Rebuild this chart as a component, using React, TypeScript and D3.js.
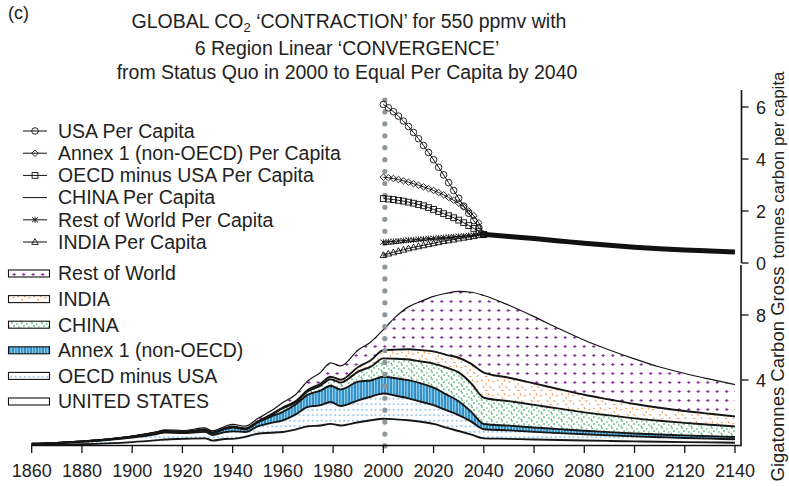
import React from 'react';
import * as d3 from 'd3';

// ---------- Data ----------
const years = [1860,1870,1880,1890,1900,1910,1913,1920,1929,1932,1937,1940,1945,1950,1955,1960,1965,1970,1975,1979,1983,1990,1995,2000,
  2005,2010,2015,2020,2025,2030,2035,2040,
  2050,2060,2070,2080,2090,2100,2110,2120,2130,2140];

const usaGross = [0.01,0.02,0.05,0.10,0.18,0.30,0.34,0.38,0.41,0.27,0.37,0.38,0.50,0.69,0.75,0.80,0.95,1.15,1.20,1.30,1.20,1.40,1.52,1.62,
  1.58,1.52,1.43,1.30,1.07,0.86,0.64,0.41,
  0.38,0.34,0.31,0.28,0.25,0.22,0.20,0.18,0.16,0.14];
const oecdGross = [0.06,0.10,0.15,0.21,0.28,0.38,0.42,0.35,0.40,0.35,0.42,0.46,0.30,0.45,0.60,0.72,0.92,1.20,1.25,1.35,1.20,1.35,1.45,1.55,
  1.45,1.35,1.23,1.15,1.07,0.98,0.80,0.56,
  0.52,0.47,0.42,0.38,0.34,0.31,0.28,0.25,0.23,0.21];
const annexGross = [0.005,0.01,0.02,0.03,0.05,0.08,0.09,0.05,0.10,0.12,0.20,0.24,0.17,0.25,0.38,0.52,0.62,0.75,0.90,1.00,1.02,1.15,1.00,1.03,
  1.08,1.12,1.13,1.08,0.98,0.85,0.60,0.32,
  0.29,0.27,0.25,0.22,0.20,0.18,0.17,0.16,0.15,0.14];
const chinaGross = [0,0,0,0,0.005,0.01,0.01,0.01,0.02,0.02,0.02,0.03,0.02,0.03,0.08,0.22,0.13,0.21,0.30,0.40,0.42,0.62,0.85,1.13,
  1.20,1.27,1.35,1.48,1.65,1.78,1.75,1.62,
  1.51,1.39,1.26,1.13,1.03,0.93,0.84,0.77,0.71,0.65];
const indiaGross = [0,0,0.005,0.005,0.01,0.01,0.01,0.02,0.02,0.02,0.02,0.03,0.03,0.03,0.04,0.05,0.07,0.09,0.12,0.15,0.18,0.28,0.40,0.50,
  0.56,0.63,0.70,0.75,0.78,0.90,1.20,1.54,
  1.44,1.32,1.19,1.08,0.98,0.88,0.80,0.73,0.67,0.62];
const rowGross = [0.01,0.01,0.02,0.02,0.03,0.05,0.06,0.08,0.10,0.09,0.11,0.13,0.14,0.18,0.22,0.30,0.40,0.55,0.70,0.85,0.85,1.05,1.12,1.27,
  2.03,2.61,3.00,3.39,3.78,4.08,4.41,4.75,
  4.46,4.11,3.72,3.36,3.05,2.78,2.51,2.31,2.13,1.96];

const pcYears = [2000,2002,2004,2006,2008,2010,2012,2014,2016,2018,2020,2022,2024,2026,2028,2030,2032,2034,2036,2038,2040];
const usaPC = [6.10,5.97,5.82,5.65,5.46,5.25,5.02,4.78,4.52,4.25,3.97,3.68,3.39,3.09,2.79,2.49,2.19,1.91,1.63,1.36,1.10];
const annexPC = [3.30,3.28,3.25,3.21,3.16,3.11,3.05,2.99,2.93,2.86,2.79,2.71,2.62,2.52,2.41,2.30,2.16,2.00,1.82,1.55,1.10];
const oecdPC = [2.48,2.46,2.44,2.41,2.38,2.34,2.30,2.25,2.20,2.13,2.06,1.98,1.90,1.82,1.74,1.65,1.55,1.44,1.33,1.22,1.10];
const chinaPC = [0.70,0.72,0.74,0.76,0.79,0.81,0.83,0.85,0.87,0.89,0.91,0.93,0.95,0.97,0.99,1.01,1.03,1.05,1.07,1.09,1.10];
const rowPC = [0.80,0.82,0.83,0.85,0.86,0.88,0.89,0.91,0.92,0.94,0.95,0.97,0.98,1.00,1.01,1.03,1.04,1.06,1.07,1.09,1.10];
const indiaPC = [0.30,0.36,0.41,0.46,0.51,0.56,0.60,0.64,0.68,0.72,0.76,0.80,0.84,0.87,0.90,0.94,0.97,1.00,1.03,1.07,1.10];

const convYears = [2040,2050,2060,2070,2080,2090,2100,2110,2120,2130,2140];
const convPC = [1.10,1.02,0.94,0.85,0.76,0.68,0.61,0.55,0.50,0.46,0.42];

const xTicks = [1860,1880,1900,1920,1940,1960,1980,2000,2020,2040,2060,2080,2100,2120,2140];
const pcTicks = [0,2,4,6];
const gTicks = [4,8];

const titleLines = ['6 Region Linear ‘CONVERGENCE’', 'from Status Quo in 2000 to Equal Per Capita by 2040'];

const pcLegend = [
  { label: 'USA Per Capita', marker: 'circle' },
  { label: 'Annex 1 (non-OECD) Per Capita', marker: 'diamond' },
  { label: 'OECD minus USA Per Capita', marker: 'square' },
  { label: 'CHINA Per Capita', marker: 'none' },
  { label: 'Rest of World Per Capita', marker: 'asterisk' },
  { label: 'INDIA Per Capita', marker: 'triangle' },
];
const areaLegend = [
  { label: 'Rest of World', key: 'row' },
  { label: 'INDIA', key: 'india' },
  { label: 'CHINA', key: 'china' },
  { label: 'Annex 1 (non-OECD)', key: 'annex' },
  { label: 'OECD minus USA', key: 'oecd' },
  { label: 'UNITED STATES', key: 'usa' },
];

const keys = ['usa', 'oecd', 'annex', 'china', 'india', 'row'];
const fills: Record<string, string> = {
  usa: '#ffffff', oecd: 'url(#pOecd)', annex: 'url(#pAnnex)', china: 'url(#pChina)', india: 'url(#pIndia)', row: 'url(#pRow)',
};

const FONT = 'Liberation Sans, Arial, Helvetica, sans-serif';

function Marker({ type, cx, cy }: { type: string; cx: number; cy: number }) {
  const s = { fill: 'none', stroke: '#111', strokeWidth: 0.9 } as const;
  if (type === 'circle') return <circle cx={cx} cy={cy} r={3.3} {...s} />;
  if (type === 'diamond') return <path d={`M${cx},${cy - 3.2}L${cx + 3.4},${cy}L${cx},${cy + 3.2}L${cx - 3.4},${cy}Z`} {...s} />;
  if (type === 'square') return <rect x={cx - 2.9} y={cy - 2.9} width={5.8} height={5.8} {...s} />;
  if (type === 'triangle') return <path d={`M${cx},${cy - 3.4}L${cx + 3.3},${cy + 2.4}L${cx - 3.3},${cy + 2.4}Z`} {...s} />;
  if (type === 'asterisk')
    return <path d={`M${cx - 3},${cy - 2.5}L${cx + 3},${cy + 2.5}M${cx - 3},${cy + 2.5}L${cx + 3},${cy - 2.5}M${cx},${cy - 3}V${cy + 3}`} {...s} />;
  return null;
}

export default function App() {
  const x = d3.scaleLinear().domain([1860, 2140]).range([31.7, 735]);
  const yPC = d3.scaleLinear().domain([0, 6]).range([263, 107]);
  const yG = d3.scaleLinear().domain([0, 8]).range([445, 315]);

  const table = years.map((yr, i) => ({
    year: yr, usa: usaGross[i], oecd: oecdGross[i], annex: annexGross[i],
    china: chinaGross[i], india: indiaGross[i], row: rowGross[i],
  }));
  const series = d3.stack<any>().keys(keys)(table);
  const area = d3.area<any>().x((d) => x(d.data.year)).y0((d) => yG(d[0])).y1((d) => yG(d[1])).curve(d3.curveMonotoneX);
  const topLine = d3.line<any>().x((d) => x(d.data.year)).y((d) => yG(d[1])).curve(d3.curveMonotoneX);

  const pcLine = d3.line<number>().x((_, i) => x(pcYears[i])).y((v) => yPC(v));
  const convLine = d3.line<number>().x((_, i) => x(convYears[i])).y((v) => yPC(v)).curve(d3.curveMonotoneX);

  const pcSeries = [
    { vals: usaPC, marker: 'circle' },
    { vals: annexPC, marker: 'diamond' },
    { vals: oecdPC, marker: 'square' },
    { vals: chinaPC, marker: 'none' },
    { vals: rowPC, marker: 'asterisk' },
    { vals: indiaPC, marker: 'triangle' },
  ];

  const dotX = x(2000) + 1.5;
  const dots: number[] = [];
  for (let yy = 100; yy <= 447; yy += 11.93) dots.push(yy);

  const axisX = 741.5;

  return (
    <svg width={789} height={486} style={{ position: 'absolute', left: 0, top: 0, background: '#fff' }} fontFamily={FONT}>
      <defs>
        <pattern id="pRow" width="9.5" height="9" patternUnits="userSpaceOnUse">
          <rect width="9.5" height="9" fill="#fff" />
          <path d="M3.1,4.5h3.2M4.7,2.9v3.2" stroke="#7a2d8a" strokeWidth="1.15" />
        </pattern>
        <pattern id="pIndia" width="16" height="14" patternUnits="userSpaceOnUse">
          <rect width="16" height="14" fill="#fff" />
          <path d="M1,2l2,1M8,1l1,2.5M12,4l2.5,-0.5M3,8l1.5,2M9,8.5l2.5,1M14,11l-1,2M5,12.5l2.5,0M6,5l0.5,2" stroke="#f4a35c" strokeWidth="1.1" />
        </pattern>
        <pattern id="pChina" width="10" height="7" patternUnits="userSpaceOnUse">
          <rect width="10" height="7" fill="#fff" />
          <path d="M1,1h2M6,2h1.6M3,4h2M8,5h1.6M0.5,6.2h1.5" stroke="#23a056" strokeWidth="1.1" />
        </pattern>
        <pattern id="pAnnex" width="6" height="10" patternUnits="userSpaceOnUse">
          <rect width="6" height="10" fill="#55b0de" />
          <rect x="0.5" width="1.1" height="10" fill="#1a6fa8" />
          <rect x="3.4" width="0.8" height="10" fill="#2583bd" />
          <rect x="2.2" width="0.6" height="10" fill="#c4e6f6" />
          <rect x="5.1" width="0.5" height="10" fill="#a9daf2" />
        </pattern>
        <pattern id="pOecd" width="4.5" height="5.5" patternUnits="userSpaceOnUse">
          <rect width="4.5" height="5.5" fill="#fff" />
          <circle cx="2.2" cy="2.7" r="0.95" fill="#7fb8e2" />
        </pattern>
      </defs>

      {/* Title */}
      <text x={8} y={19} fontSize={18} fill="#222">(c)</text>
      <text x={349} y={28} fontSize={19.5} textAnchor="middle" fill="#222">
        GLOBAL CO<tspan fontSize={13} dy={4}>2</tspan><tspan dy={-4}> ‘CONTRACTION’ for 550 ppmv with</tspan>
      </text>
      {titleLines.map((t, i) => (
        <text key={t} x={347} y={55 + i * 24} fontSize={19.5} textAnchor="middle" fill="#222">{t}</text>
      ))}

      {/* Stacked gross areas */}
      {series.map((s) => (
        <path key={s.key} d={area(s) || ''} fill={fills[s.key]} stroke="none" />
      ))}
      {series.map((s) => (
        <path key={'l' + s.key} d={topLine(s) || ''} fill="none" stroke="#161616" strokeWidth={s.key === 'row' ? 1.2 : 1.9} />
      ))}

      {/* Grey dotted line at 2000 */}
      {dots.map((yy, i) => (
        <circle key={i} cx={dotX} cy={yy} r={2.6} fill="#8d979c" />
      ))}

      {/* Per capita */}
      {pcSeries.map((s, si) => (
        <g key={si}>
          <path d={pcLine(s.vals) || ''} fill="none" stroke="#111" strokeWidth={1} />
          {s.marker !== 'none' && s.vals.map((v, i) => (
            <Marker key={i} type={s.marker} cx={x(pcYears[i])} cy={yPC(v)} />
          ))}
        </g>
      ))}
      <path d={convLine(convPC) || ''} fill="none" stroke="#111" strokeWidth={5} />

      {/* Bottom axis */}
      <line x1={31} x2={axisX} y1={445.5} y2={445.5} stroke="#111" strokeWidth={1.6} />
      {xTicks.map((t) => (
        <g key={t}>
          <line x1={x(t)} x2={x(t)} y1={445.5} y2={453} stroke="#111" strokeWidth={1.3} />
          <text x={x(t)} y={477} fontSize={18} textAnchor="middle" fill="#222">{t}</text>
        </g>
      ))}

      {/* Right axes */}
      <line x1={axisX} x2={axisX} y1={90} y2={263} stroke="#111" strokeWidth={1.6} />
      <line x1={axisX - 0.5} x2={axisX - 0.5} y1={265} y2={446} stroke="#111" strokeWidth={1.6} />
      {pcTicks.map((t) => (
        <g key={'p' + t}>
          <line x1={axisX} x2={axisX + 7} y1={yPC(t)} y2={yPC(t)} stroke="#111" strokeWidth={1.3} />
          <text x={756} y={yPC(t) + 6.5} fontSize={18} fill="#222">{t}</text>
        </g>
      ))}
      {gTicks.map((t) => (
        <g key={'g' + t}>
          <line x1={axisX} x2={axisX + 7} y1={yG(t)} y2={yG(t)} stroke="#111" strokeWidth={1.3} />
          <text x={756} y={yG(t) + 6.5} fontSize={18} fill="#222">{t}</text>
        </g>
      ))}
      <text transform="translate(784,165) rotate(-90)" fontSize={17} textAnchor="middle" fill="#222">tonnes carbon per capita</text>
      <text transform="translate(784,374) rotate(-90)" fontSize={18.5} textAnchor="middle" fill="#222">Gigatonnes Carbon Gross</text>

      {/* Per capita legend */}
      {pcLegend.map((l, i) => {
        const cy = 131 + i * 22.2;
        return (
          <g key={l.label}>
            <line x1={23} x2={47} y1={cy} y2={cy} stroke="#111" strokeWidth={1} />
            <Marker type={l.marker} cx={35} cy={cy} />
            <text x={58} y={cy + 6.8} fontSize={19.5} fill="#222">{l.label}</text>
          </g>
        );
      })}

      {/* Area legend */}
      {areaLegend.map((l, i) => {
        const cy = 273.5 + i * 25.6;
        return (
          <g key={l.label}>
            <rect x={8.5} y={cy - 3.5} width={41} height={7} fill={fills[l.key]} stroke="#111" strokeWidth={1.1} />
            <text x={58} y={cy + 6.8} fontSize={19.5} fill="#222">{l.label}</text>
          </g>
        );
      })}
    </svg>
  );
}
